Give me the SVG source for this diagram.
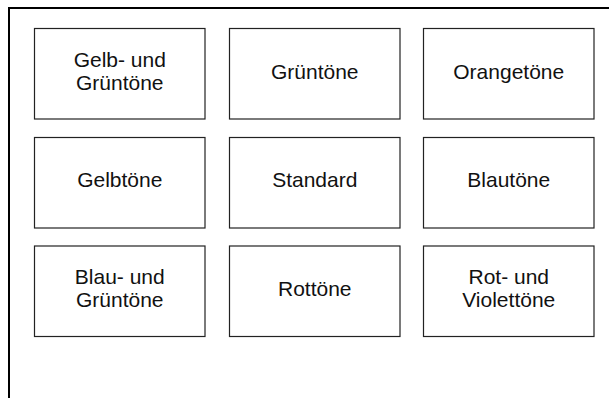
<svg xmlns="http://www.w3.org/2000/svg" width="609" height="398" viewBox="0 0 609 398">
<style>
.frame{fill:none;stroke:#000;stroke-width:2}
.box{fill:#fff;stroke:#222;stroke-width:1.2}
.lbl{font-family:"Liberation Sans",Arial,sans-serif;font-size:21px;fill:#111;text-anchor:middle}
</style>
<rect width="609" height="398" fill="#fff"/>
<rect class="frame" x="9" y="8" width="620" height="420"/>
<g id="connectors"/>
<g id="n1"><rect class="box" x="34.5" y="28.5" width="170.5" height="90.5"/><text class="lbl" x="119.75" y="66.8">Gelb- und</text><text class="lbl" x="119.75" y="89.8">Grüntöne</text></g>
<g id="n2"><rect class="box" x="229.5" y="28.5" width="170.5" height="90.5"/><text class="lbl" x="314.75" y="78.5">Grüntöne</text></g>
<g id="n3"><rect class="box" x="423.5" y="28.5" width="170.5" height="90.5"/><text class="lbl" x="508.75" y="78.5">Orangetöne</text></g>
<g id="n4"><rect class="box" x="34.5" y="137.5" width="170.5" height="90.5"/><text class="lbl" x="119.75" y="187.3">Gelbtöne</text></g>
<g id="n5"><rect class="box" x="229.5" y="137.5" width="170.5" height="90.5"/><text class="lbl" x="314.75" y="187.3">Standard</text></g>
<g id="n6"><rect class="box" x="423.5" y="137.5" width="170.5" height="90.5"/><text class="lbl" x="508.75" y="187.3">Blautöne</text></g>
<g id="n7"><rect class="box" x="34.5" y="246" width="170.5" height="90.5"/><text class="lbl" x="119.75" y="284">Blau- und</text><text class="lbl" x="119.75" y="307">Grüntöne</text></g>
<g id="n8"><rect class="box" x="229.5" y="246" width="170.5" height="90.5"/><text class="lbl" x="314.75" y="295.8">Rottöne</text></g>
<g id="n9"><rect class="box" x="423.5" y="246" width="170.5" height="90.5"/><text class="lbl" x="508.75" y="284">Rot- und</text><text class="lbl" x="508.75" y="307">Violettöne</text></g>
</svg>
